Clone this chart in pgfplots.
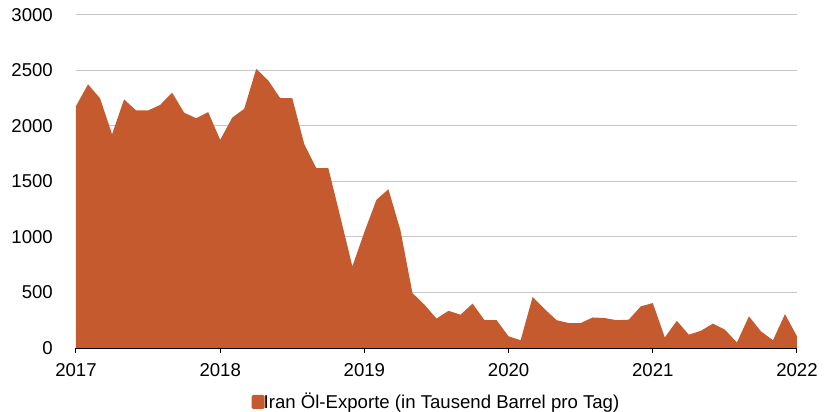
\documentclass[border=0pt]{standalone}
\usepackage{fontspec}
\setmainfont{Liberation Sans}
\usepackage{pgfplots}
\pgfplotsset{compat=1.18}
\definecolor{areaC}{RGB}{197,90,46}
\definecolor{gridC}{RGB}{200,200,200}
\newcommand\f{\fontsize{18.6pt}{22pt}\selectfont}
\begin{document}
\begin{tikzpicture}
\path[use as bounding box] (-76pt,-64pt) rectangle (755pt,348pt);
\begin{axis}[
  at={(0pt,0pt)}, anchor=south west,
  scale only axis, width=721pt, height=333pt,
  xmin=0, xmax=60, ymin=0, ymax=3000,
  xtick={0,12,24,36,48,60},
  xticklabels={2017,2018,2019,2020,2021,2022},
  ytick={0,500,1000,1500,2000,2500,3000},
  /pgf/number format/1000 sep={},
  /pgf/number format/assume math mode=true,
  axis x line*=bottom,
  axis y line*=left,
  y axis line style={draw=none},
  x axis line style={black, line width=1.3pt, -},
  ytick style={draw=none},
  xtick style={black, line width=1pt},
  tick align=outside,
  major tick length=5pt,
  ymajorgrids, grid style={gridC, line width=1pt},
  tick label style={font=\f, text=black},
  yticklabel style={anchor=east, inner sep=0pt, xshift=-18pt},
  xticklabel style={anchor=north, inner sep=0pt, yshift=-10pt},
  legend style={at={(0.5,-0.162)}, anchor=center, draw=none, fill=none, font=\f, inner sep=0pt},
  legend image code/.code={\fill[areaC, rounded corners=1.5pt] (0pt,-7pt) rectangle (13pt,7pt);},
  legend cell align=left,
  legend style={/tikz/every even column/.append style={column sep=0pt}},
  axis on top=false,
]
\addplot[fill=areaC, draw=none] table[x=m, y=v] {
m v
0 2180
1 2375
2 2250
3 1925
4 2240
5 2140
6 2140
7 2190
8 2300
9 2120
10 2070
11 2125
12 1875
13 2075
14 2155
15 2515
16 2410
17 2250
18 2250
19 1835
20 1620
21 1620
22 1180
23 735
24 1045
25 1335
26 1430
27 1060
28 495
29 390
30 265
31 335
32 300
33 400
34 250
35 250
36 105
37 70
38 460
39 350
40 250
41 225
42 225
43 275
44 270
45 250
46 255
47 375
48 405
49 95
50 245
51 120
52 155
53 220
54 165
55 50
56 285
57 150
58 70
59 305
60 105
} \closedcycle;
\addlegendentry{\hspace{-3pt}Iran Öl-Exporte (in Tausend Barrel pro Tag)}
\end{axis}
\end{tikzpicture}
\end{document}
